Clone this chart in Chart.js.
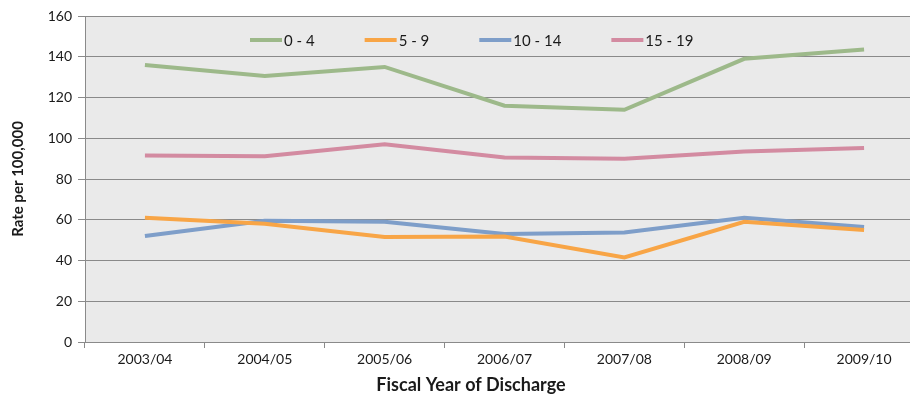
<!DOCTYPE html>
<html>
<head>
<meta charset="utf-8">
<script src="https://cdn.jsdelivr.net/npm/chart.js@4/dist/chart.umd.min.js"></script>
<style>
  html, body { margin: 0; padding: 0; background: #ffffff; overflow: hidden; }
  #wrap { width: 924px; height: 397px; position: relative; }
</style>
</head>
<body>
<div id="wrap"><canvas id="chart"></canvas></div>
<script>
// Discharge rate per 100,000 by age group and fiscal year
const years = ['2003/04', '2004/05', '2005/06', '2006/07', '2007/08', '2008/09', '2009/10'];
const age0to4   = [136, 130.5, 135, 116, 114, 139, 143.5];
const age5to9   = [61, 58, 51.5, 51.8, 41.5, 59, 55];
const age10to14 = [52, 59.5, 59, 53, 53.8, 61, 56.5];
const age15to19 = [91.5, 91.2, 97, 90.5, 90, 93.5, 95.2];
const yTicks = [0, 20, 40, 60, 80, 100, 120, 140, 160];
const xTitle = 'Fiscal Year of Discharge';

const FONT = "Lato, 'Open Sans', sans-serif";
const GRID = '#8a8a8a';
const TEXT = '#1a1a1a';

function series(label, data, color) {
  return {
    label: label,
    data: data,
    borderColor: color,
    backgroundColor: color,
    borderWidth: 4,
    pointRadius: 0,
    pointHoverRadius: 0,
    tension: 0,
    fill: false
  };
}

// grey plot background
const plotBg = {
  id: 'plotBg',
  beforeDraw(chart) {
    const { ctx, chartArea: a } = chart;
    ctx.save();
    ctx.fillStyle = '#eaeaea';
    ctx.fillRect(a.left, a.top, a.right - a.left, a.bottom - a.top);
    ctx.restore();
  }
};

// one-row legend inside the plot plus the x-axis caption, placed left of centre
const annotations = {
  id: 'annotations',
  afterDatasetsDraw(chart) {
    const { ctx, chartArea: a } = chart;
    const y = a.top + 24;
    let x = a.left + 165;
    ctx.save();
    ctx.font = '15px ' + FONT;
    ctx.textBaseline = 'middle';
    ctx.textAlign = 'left';
    chart.data.datasets.forEach(ds => {
      ctx.strokeStyle = ds.borderColor;
      ctx.lineWidth = 4;
      ctx.lineCap = 'butt';
      ctx.beginPath();
      ctx.moveTo(x, y);
      ctx.lineTo(x + 32, y);
      ctx.stroke();
      ctx.fillStyle = TEXT;
      ctx.fillText(ds.label, x + 34, y + 1);
      x += 34 + ctx.measureText(ds.label).width + 50;
    });

    ctx.font = 'bold 18px ' + FONT;
    ctx.textAlign = 'center';
    ctx.fillText(xTitle, a.left + 386, a.bottom + 43);
    ctx.restore();
  }
};

new Chart(document.getElementById('chart'), {
  type: 'line',
  data: {
    labels: years,
    datasets: [
      series('0 - 4', age0to4, '#9db98a'),
      series('5 - 9', age5to9, '#f8a546'),
      series('10 - 14', age10to14, '#7e9ec9'),
      series('15 - 19', age15to19, '#d38ba1')
    ]
  },
  options: {
    responsive: true,
    maintainAspectRatio: false,
    animation: false,
    layout: { padding: { top: 16, left: 9, right: 0, bottom: 0 } },
    plugins: {
      tooltip: { enabled: false },
      legend: { display: false }
    },
    scales: {
      x: {
        type: 'category',
        offset: true,
        border: { display: true, color: GRID, width: 1 },
        grid: {
          offset: true,
          drawOnChartArea: false,
          drawTicks: true,
          tickLength: 6,
          color: GRID
        },
        ticks: {
          color: TEXT,
          padding: 3,
          maxRotation: 0,
          font: { family: FONT, size: 14 }
        },
        afterFit(scale) { scale.height = 55; }
      },
      y: {
        min: 0,
        max: 160,
        afterBuildTicks(scale) { scale.ticks = yTicks.map(v => ({ value: v })); },
        border: { display: true, color: GRID, width: 1 },
        grid: {
          color: GRID,
          lineWidth: 1,
          drawTicks: true,
          tickLength: 7
        },
        ticks: {
          color: TEXT,
          padding: 6,
          font: { family: FONT, size: 14 }
        },
        title: {
          display: true,
          text: 'Rate per 100,000',
          color: TEXT,
          padding: { top: 0, bottom: 10 },
          font: { family: FONT, size: 15, weight: 'bold' }
        },
        afterFit(scale) { scale.width = 76; }
      }
    }
  },
  plugins: [plotBg, annotations]
});
</script>
</body>
</html>
